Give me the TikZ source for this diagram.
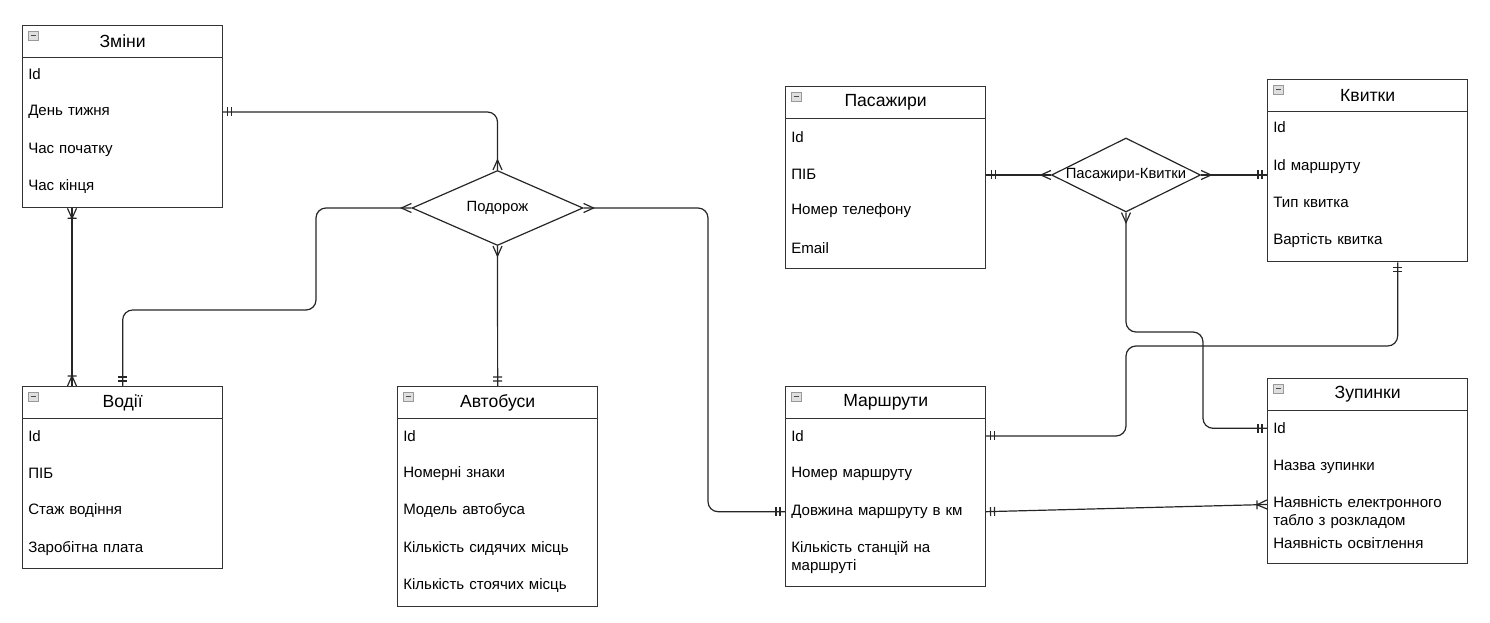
\documentclass[tikz,border=0pt]{standalone}
\usepackage{fontspec}
\setmainfont{Liberation Sans}
\usetikzlibrary{shapes.geometric,decorations.markings}

\tikzset{
	tbl/.style={draw=black!80,fill=white,line width=1pt,anchor=north west,
		minimum width=150pt,inner sep=0pt},
	head/.style={draw=black!80,line width=1pt,anchor=north,minimum width=150pt,
		minimum height=24pt,inner sep=0pt,font=\fontsize{13.2}{15}\selectfont},
	attr/.style={anchor=west,inner xsep=4.5pt,inner ysep=0pt,text width=141pt,
		align=left,font=\fontsize{11.3}{13.5}\selectfont},
	rel/.style={diamond,draw=black!85,fill=white,line width=0.9pt,inner sep=0pt,
		label={[font=\fontsize{11.1}{13}\selectfont]center:#1}},
	link/.style={draw=black!85,line width=0.9pt,rounded corners=7.5pt},
	erline/.style={draw=black!85,line width=0.9pt,sharp corners},
	mk/.style 2 args={postaction={decorate,decoration={markings,
		mark=at position #1 with {#2}}}},
	one start/.style={mk={0}{\draw[erline] (5,-4.5)--(5,4.5) (9,-4.5)--(9,4.5);}},
	one end/.style={mk={1}{\draw[erline] (-5,-4.5)--(-5,4.5) (-9,-4.5)--(-9,4.5);}},
	many start/.style={mk={0}{\draw[erline] (0,-4.5)--(10,0)--(0,4.5);}},
	many end/.style={mk={1}{\draw[erline] (0,-4.5)--(-10,0)--(0,4.5);}},
	onemany start/.style={mk={0}{\draw[erline] (0,-4.5)--(10,0)--(0,4.5)
		(10,-4.5)--(10,4.5);}},
	onemany end/.style={mk={1}{\draw[erline] (0,-4.5)--(-10,0)--(0,4.5)
		(-10,-4.5)--(-10,4.5);}},
	icon/.pic={\draw[draw=gray!80,fill=gray!25,line width=0.4pt] (6,6) rectangle (16,15);
		\draw[black!70,line width=0.8pt] (8.5,10.5)--(13.5,10.5);}
}

\begin{document}
\begin{tikzpicture}[x=0.75pt,y=-0.75pt]
	\useasboundingbox (0,0) rectangle (1490,623);
	% tables
	\node[tbl,minimum height=136.5pt] (zm) at (22,25) {};
	\node[head] (zm-h) at (zm.north) {Зміни};
	\pic at (zm.north west) {icon};
	\foreach \y/\t [count=\i] in {74/Id,112/День тижня,149.7/Час початку,187/Час кінця}
		\node[attr] (zm-\i) at (22,\y) {\t};

	\node[tbl,minimum height=136.5pt] (vd) at (22,386) {};
	\node[head] (vd-h) at (vd.north) {Водії};
	\pic at (vd.north west) {icon};
	\foreach \y/\t [count=\i] in {436/Id,473.3/ПІБ,511/Стаж водіння,548.3/Заробітна плата}
		\node[attr] (vd-\i) at (22,\y) {\t};

	\node[tbl,minimum height=165pt] (at) at (397,386) {};
	\node[head] (at-h) at (at.north) {Автобуси};
	\pic at (at.north west) {icon};
	\foreach \y/\t [count=\i] in {436/Id,473.3/Номерні знаки,511/Модель автобуса,
		548.3/Кількість сидячих місць,585.7/Кількість стоячих місць}
		\node[attr] (at-\i) at (397,\y) {\t};

	\node[tbl,minimum height=150pt] (mr) at (785,386) {};
	\node[head] (mr-h) at (mr.north) {Маршрути};
	\pic at (mr.north west) {icon};
	\foreach \y/\t [count=\i] in {436/Id,474/Номер маршруту,511.7/Довжина маршруту в км,
		557/{Кількість станцій на\\маршруті}}
		\node[attr] (mr-\i) at (785,\y) {\t};

	\node[tbl,minimum height=136.5pt] (ps) at (785,86) {};
	\node[head] (ps-h) at (ps.north) {Пасажири};
	\pic at (ps.north west) {icon};
	\foreach \y/\t [count=\i] in {136.7/Id,174/ПІБ,211/Номер телефону,248.3/Email}
		\node[attr] (ps-\i) at (785,\y) {\t};

	\node[tbl,minimum height=136.5pt] (kv) at (1267,79) {};
	\node[head] (kv-h) at (kv.north) {Квитки};
	\pic at (kv.north west) {icon};
	\foreach \y/\t [count=\i] in {127.3/Id,166.7/Id маршруту,202.7/Тип квитка,
		240.7/Вартість квитка}
		\node[attr] (kv-\i) at (1267,\y) {\t};

	\node[tbl,minimum height=138.75pt] (zp) at (1267,378) {};
	\node[head] (zp-h) at (zp.north) {Зупинки};
	\pic at (zp.north west) {icon};
	\foreach \y/\t [count=\i] in {428.3/Id,466.7/Назва зупинки,
		512.5/{Наявність електронного\\табло з розкладом},543.3/Наявність освітлення}
		\node[attr] (zp-\i) at (1267,\y) {\t};

	% relations
	\node[rel=Подорож,minimum width=128.25pt,minimum height=56.25pt] (pd) at (497.5,208) {};
	\node[rel=Пасажири-Квитки,minimum width=111.75pt,minimum height=55.5pt] (pk) at (1126,175) {};

	% connectors
	\draw[link,one start,many end] (zm-2.east) -| (pd.north);
	\draw[link,one start,many end] (vd.north) |- (316,310) |- (pd.west);
	\draw[link,many start,one end] (pd.south) -- (at.north);
	\draw[link,many start,one end] (pd.east) -| (708,300) |- (mr-3.west);
	\draw[link,onemany start,onemany end] ([xshift=37.5pt]zm.south west)
		-- ([xshift=37.5pt]vd.north west);
	\draw[link,one start,many end] (pk.west -| ps.east) -- (pk.west);
	\draw[link,many start,one end] (pk.east) -- (pk.east -| kv.west);
	\draw[link,many start,one end] (pk.south) |- (1203,332) |- (zp-1.west);
	\draw[link,one start,one end] ([xshift=22.5pt]kv.south) |- (1126,346) |- (mr-1.east);
	\draw[link,one start,onemany end] (mr-3.east) -- ([yshift=6pt]zp-3.west);
\end{tikzpicture}
\end{document}
